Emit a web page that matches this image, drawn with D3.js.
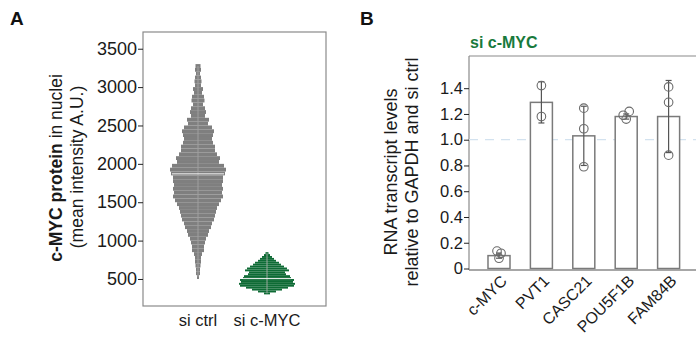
<!DOCTYPE html>
<html><head><meta charset="utf-8">
<script src="https://cdn.jsdelivr.net/npm/d3@7"></script>
<style>
body{margin:0;background:#fff;}
text{font-family:"Liberation Sans",Arial,Helvetica,sans-serif;}
</style></head>
<body><svg id="c" width="696" height="338"></svg>
<script>
// ---------- Panel A data ----------
const groupsA = ["si ctrl", "si c-MYC"];
const ticksA = [500, 1000, 1500, 2000, 2500, 3000, 3500];
// si ctrl: bin centres (50-unit bins) and swarm half-widths (cell counts)
const ctrlBins = [3275,3225,3175,3125,3075,3025,2975,2925,2875,2825,2775,2725,2675,2625,2575,2525,2475,2425,2375,2325,2275,2225,2175,2125,2075,2025,1975,1925,1875,1825,1775,1725,1675,1625,1575,1525,1475,1425,1375,1325,1275,1225,1175,1125,1075,1025,975,925,875,825,775,725,675,625,575,525];
const ctrlCounts = [2.5,3,2,3,3.5,3,5,4,6,6.5,5,7,8,7,11,10,14,16,15,14,15,17,17,19,22,21,26,28,27,25,25,24,25,24,25,23,21,19,18,17,16,14,13,11,10,8,7,6,6,4,3,3,2.5,2,2,1];
const ctrlMedian = 1870;
// si c-MYC: 25-unit bins
const mycBins = [837,812,787,762,737,712,687,662,637,612,587,562,537,512,487,462,437,412,387,362,337,312];
const mycCounts = [1.5,3,5,7,9,12,14,17,20,22,18,19,23,24,27,26,28,27,21,15,9,3];
const mycMedian = 505;

// ---------- Panel B data ----------
const genes = ["c-MYC", "PVT1", "CASC21", "POU5F1B", "FAM84B"];
const means = [0.10, 1.29, 1.03, 1.18, 1.18];
const sds = [0.02, 0.16, 0.23, 0.02, 0.28];
const reps = [[0.135, 0.118, 0.08], [1.42, 1.18], [1.245, 1.085, 0.79], [1.22, 1.19, 1.16], [1.41, 1.29, 0.88]];
const ticksB = [0, 0.2, 0.4, 0.6, 0.8, 1.0, 1.2, 1.4];

const svg = d3.select("#c");
const grey = "#7f7f7f", green = "#0e6b35", titleGreen = "#187a3c";

// ---------- Panel A ----------
const A = {l:143, r:326, t:32, b:306};
const yA = d3.scaleLinear().domain([148, 3718]).range([A.b, A.t]);
const xA = d3.scalePoint().domain(groupsA).range([198, 267]);
const wA = d3.scaleLinear().domain([0, 1]).range([0, 1]);

svg.append("text").attr("x", 10).attr("y", 25).attr("font-size", 19).attr("font-weight", "bold").attr("fill", "#111").text("A");
svg.append("rect").attr("x", A.l).attr("y", A.t).attr("width", A.r - A.l).attr("height", A.b - A.t)
  .attr("fill", "none").attr("stroke", "#8a8a8a").attr("stroke-width", 1.2);

function swarm(bins, counts, step, group, color) {
  const cx = xA(group);
  svg.append("g").selectAll("rect").data(bins).join("rect")
    .attr("x", (d, i) => cx - wA(counts[i]))
    .attr("width", (d, i) => 2 * wA(counts[i]))
    .attr("y", d => yA(d + step / 2))
    .attr("height", d => yA(d - step / 2) - yA(d + step / 2))
    .attr("fill", color);
}
swarm(ctrlBins, ctrlCounts, 50, "si ctrl", grey);
swarm(mycBins, mycCounts, 25, "si c-MYC", green);
// centre lines and median bars
[[ctrlBins, ctrlMedian, "si ctrl", "#a0a0a0", 26], [mycBins, mycMedian, "si c-MYC", "#9aa99e", 24]].forEach(([bins, med, g, lc, hw]) => {
  const cx = xA(g);
  svg.append("line").attr("x1", cx).attr("x2", cx)
    .attr("y1", yA(d3.max(bins))).attr("y2", yA(d3.min(bins)))
    .attr("stroke", lc).attr("stroke-width", 1);
  svg.append("line").attr("x1", cx - hw).attr("x2", cx + hw).attr("y1", yA(med)).attr("y2", yA(med))
    .attr("stroke", "#f4f4f4").attr("stroke-width", 1);
});

const axA = svg.append("g").attr("transform", `translate(${A.l},0)`)
  .call(d3.axisLeft(yA).tickValues(ticksA).tickSize(5).tickPadding(1).tickFormat(d3.format("d")));
axA.select(".domain").remove();
axA.selectAll("line").attr("stroke", "#222");
axA.selectAll("text").attr("font-size", 18).attr("fill", "#1a1a1a").attr("font-family", "Liberation Sans, Arial, sans-serif");

svg.append("g").selectAll("text").data(groupsA).join("text")
  .attr("x", d => xA(d)).attr("y", 326).attr("text-anchor", "middle")
  .attr("font-size", 16.5).attr("fill", "#1a1a1a").text(d => d);

const labA = svg.append("text").attr("transform", "translate(62,168) rotate(-90)").attr("text-anchor", "middle")
  .attr("font-size", 17.5).attr("fill", "#1a1a1a");
labA.append("tspan").attr("font-weight", "bold").text("c-MYC protein");
labA.append("tspan").text(" in nuclei");
svg.append("text").attr("transform", "translate(83,167) rotate(-90)").attr("text-anchor", "middle")
  .attr("font-size", 17.5).attr("fill", "#1a1a1a").text("(mean intensity A.U.)");

// ---------- Panel B ----------
const B = {l:469, r:698.6, t:56, b:270};
const yB = d3.scaleLinear().domain([0, 1.65]).range([268.5, B.t]);
const xB = d3.scaleBand().domain(genes).range([B.l, B.r]).paddingInner(0.481).paddingOuter(0.448);

svg.append("text").attr("x", 360).attr("y", 25).attr("font-size", 19).attr("font-weight", "bold").attr("fill", "#111").text("B");
svg.append("text").attr("x", 470).attr("y", 48).attr("font-size", 16).attr("font-weight", "bold").attr("fill", titleGreen).text("si c-MYC");

svg.append("line").attr("x1", B.l).attr("x2", B.r).attr("y1", B.t).attr("y2", B.t).attr("stroke", "#8a8a8a").attr("stroke-width", 1.2);
svg.append("line").attr("x1", B.l).attr("x2", B.l).attr("y1", B.t).attr("y2", B.b).attr("stroke", "#8a8a8a").attr("stroke-width", 1.2);
svg.append("line").attr("x1", B.r).attr("x2", B.r).attr("y1", B.t).attr("y2", B.b).attr("stroke", "#8a8a8a").attr("stroke-width", 1.2);

svg.append("line").attr("x1", B.l).attr("x2", B.r).attr("y1", yB(1)).attr("y2", yB(1))
  .attr("stroke", "#d3e2ef").attr("stroke-width", 1.2).attr("stroke-dasharray", "9,7");

svg.append("g").selectAll("rect").data(genes).join("rect")
  .attr("x", d => xB(d)).attr("width", xB.bandwidth())
  .attr("y", (d, i) => yB(means[i])).attr("height", (d, i) => yB(0) - yB(means[i]))
  .attr("fill", "#fff").attr("stroke", "#7a7a7a").attr("stroke-width", 1.5);

svg.append("line").attr("x1", B.l).attr("x2", B.r).attr("y1", B.b).attr("y2", B.b).attr("stroke", "#8a8a8a").attr("stroke-width", 1.5);

const eb = svg.append("g").attr("stroke", "#555").attr("stroke-width", 1.2);
genes.forEach((g, i) => {
  const cx = xB(g) + xB.bandwidth() / 2;
  const lo = yB(means[i] - sds[i]), hi = yB(means[i] + sds[i]);
  eb.append("line").attr("x1", cx).attr("x2", cx).attr("y1", lo).attr("y2", hi);
  eb.append("line").attr("x1", cx - 3).attr("x2", cx + 3).attr("y1", lo).attr("y2", lo);
  eb.append("line").attr("x1", cx - 3).attr("x2", cx + 3).attr("y1", hi).attr("y2", hi);
});
const jitter = [[-2, 2, 0], [0, 0], [0, 0, 0], [3, -3, 0], [0, 0, 0]];
const pts = svg.append("g");
genes.forEach((g, i) => {
  const cx = xB(g) + xB.bandwidth() / 2;
  reps[i].forEach((v, j) => {
    pts.append("circle").attr("cx", cx + jitter[i][j]).attr("cy", yB(v)).attr("r", 4.3)
      .attr("fill", "none").attr("stroke", "#6a6a6a").attr("stroke-width", 1.1);
  });
});

const axB = svg.append("g").attr("transform", `translate(${B.l},0)`)
  .call(d3.axisLeft(yB).tickValues(ticksB).tickSize(5).tickPadding(1).tickFormat(d => d === 0 ? "0" : d3.format(".1f")(d)));
axB.select(".domain").remove();
axB.selectAll("line").attr("stroke", "#222");
axB.selectAll("text").attr("font-size", 16.5).attr("fill", "#1a1a1a").attr("font-family", "Liberation Sans, Arial, sans-serif");

svg.append("g").selectAll("text").data(genes).join("text")
  .attr("transform", d => `translate(${xB(d) + xB.bandwidth() / 2 + 9},${282}) rotate(-45)`)
  .attr("text-anchor", "end").attr("font-size", 16).attr("fill", "#1a1a1a").text(d => d);

svg.append("text").attr("transform", "translate(397,172) rotate(-90)").attr("text-anchor", "middle")
  .attr("font-size", 18).attr("fill", "#1a1a1a").text("RNA transcript levels");
svg.append("text").attr("transform", "translate(418,172) rotate(-90)").attr("text-anchor", "middle")
  .attr("font-size", 18).attr("fill", "#1a1a1a").text("relative to GAPDH and si ctrl");
</script></body></html>
